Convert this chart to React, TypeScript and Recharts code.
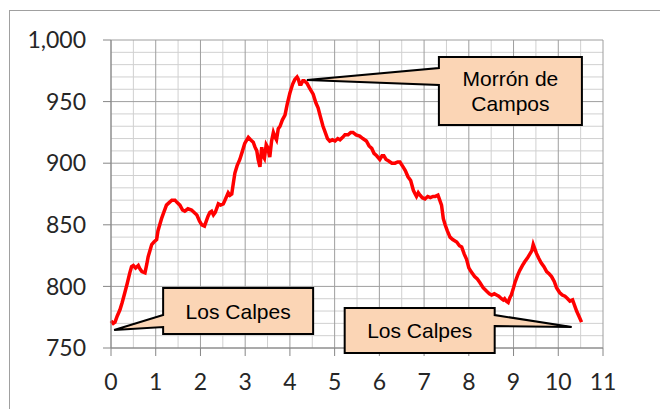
import React from 'react';
import { LineChart, Line, XAxis, YAxis, CartesianGrid, ReferenceDot } from 'recharts';

// distance along the route (km) and elevation (m)
const distanceKm = [
  0.0, 0.05, 0.09, 0.14, 0.2, 0.25, 0.31, 0.36, 0.42, 0.46, 0.5, 0.55, 0.61, 0.65, 0.69, 0.76, 0.8, 0.83, 0.87, 0.91,
  0.96, 1.02, 1.05, 1.09, 1.13, 1.17, 1.24, 1.3, 1.36, 1.43, 1.48, 1.54, 1.6, 1.65, 1.72, 1.8, 1.86, 1.92, 1.98, 2.03,
  2.09, 2.13, 2.17, 2.21, 2.25, 2.29, 2.33, 2.37, 2.4, 2.45, 2.51, 2.56, 2.62, 2.66, 2.7, 2.74, 2.77, 2.82, 2.88, 2.94,
  2.99, 3.07, 3.12, 3.18, 3.22, 3.26, 3.29, 3.33, 3.37, 3.4, 3.43, 3.47, 3.5, 3.55, 3.59, 3.63, 3.67, 3.7, 3.74, 3.78,
  3.83, 3.89, 3.94, 4.0, 4.06, 4.11, 4.16, 4.19, 4.22, 4.25, 4.29, 4.32, 4.38, 4.44, 4.52, 4.58, 4.63, 4.68, 4.74, 4.78,
  4.84, 4.89, 4.95, 5.01, 5.07, 5.12, 5.18, 5.23, 5.3, 5.36, 5.41, 5.48, 5.56, 5.63, 5.71, 5.77, 5.83, 5.88, 5.94, 6.01,
  6.06, 6.1, 6.15, 6.2, 6.28, 6.35, 6.41, 6.46, 6.53, 6.58, 6.64, 6.7, 6.76, 6.8, 6.83, 6.87, 6.91, 6.96, 7.02, 7.08,
  7.14, 7.2, 7.25, 7.31, 7.35, 7.39, 7.43, 7.47, 7.52, 7.58, 7.64, 7.73, 7.79, 7.84, 7.9, 7.95, 8.0, 8.05, 8.13, 8.19,
  8.25, 8.32, 8.4, 8.46, 8.51, 8.57, 8.62, 8.67, 8.73, 8.77, 8.8, 8.84, 8.88, 8.92, 8.95, 9.0, 9.03, 9.09, 9.14, 9.2,
  9.25, 9.31, 9.36, 9.41, 9.44, 9.47, 9.51, 9.56, 9.62, 9.68, 9.74, 9.8, 9.85, 9.91, 9.96, 10.03, 10.09, 10.15, 10.21, 10.26,
  10.32, 10.37, 10.41, 10.46, 10.52,
];

const elevationM = [
  772, 770, 771, 776, 781, 787, 795, 802, 811, 816, 817, 815, 817, 814, 812, 811, 818, 824, 829, 834,
  836, 838, 845, 850, 855, 859, 866, 868, 870, 870, 868, 866, 862, 861, 863, 862, 860, 858, 853, 850,
  849, 853, 857, 860, 861, 858, 860, 864, 867, 866, 867, 871, 876, 874, 875, 885, 892, 898, 903, 910,
  916, 921, 919, 917, 913, 910, 903, 897, 913, 906, 904, 915, 913, 905, 918, 925, 921, 919, 928, 930,
  935, 939, 948, 957, 964, 968, 970, 968, 964, 964, 967, 967, 965, 961, 956, 949, 945, 938, 930, 926,
  920, 918, 919, 918, 920, 919, 921, 923, 923, 925, 925, 923, 922, 920, 918, 914, 912, 908, 906, 903,
  906, 906, 903, 902, 900, 900, 901, 901, 897, 894, 889, 886, 878, 875, 873, 876, 874, 872, 871, 873,
  872, 873, 873, 874, 870, 866, 855, 850, 845, 840, 838, 836, 833, 832, 826, 822, 815, 812, 808, 806,
  803, 799, 796, 794, 793, 794, 793, 792, 790, 789, 790, 788, 787, 791, 793, 799, 803, 809, 813, 817,
  820, 823, 826, 829, 834, 831, 827, 823, 819, 816, 812, 810, 808, 804, 799, 795, 793, 792, 790, 788,
  789, 784, 780, 776, 771,
];

const xTicks = [0, 1, 2, 3, 4, 5, 6, 7, 8, 9, 10, 11];
const yTicks = [750, 800, 850, 900, 950, 1000];
const xMinor = [0.5, 1.5, 2.5, 3.5, 4.5, 5.5, 6.5, 7.5, 8.5, 9.5, 10.5];
const yMinor = [760, 770, 780, 790, 810, 820, 830, 840, 860, 870, 880, 890, 910, 920, 930, 940, 960, 970, 980, 990];

const X_DOMAIN = [0, 11];
const Y_DOMAIN = [750, 1000];

// callout labels: where the pointer lands (data units) and what they say
const calloutX = [4.38, 0.07, 10.3];
const calloutY = [967.5, 764.6, 767];
const calloutText = [['Morrón de', 'Campos'], ['Los Calpes'], ['Los Calpes']];

// box placement relative to the pointer tip (px)
const calloutBoxes = [
  { dx: 132, dy: -23, w: 143, h: 68, b0: -12, b1: 5, side: 'left' },
  { dx: 49, dy: -42, w: 150, h: 46, b0: -15, b1: -3, side: 'left' },
  { dx: -227, dy: -19, w: 150, h: 45, b0: -12, b1: -1, side: 'right' },
];

const data = distanceKm.map((d, i) => ({ km: d, elev: elevationM[i] }));

const MAJOR = '#9e9e9e';
const MINOR = '#d0d0d0';
const TICK_FONT = 'Lato, "Open Sans", sans-serif';

const makeCallout = (idx: number) => (props: any) => {
  const { cx, cy } = props;
  const b = calloutBoxes[idx];
  const lines = calloutText[idx];
  const left = cx + b.dx;
  const top = cy + b.dy;
  const right = left + b.w;
  const bottom = top + b.h;
  let d: string;
  if (b.side === 'left') {
    d = `M${left},${top} L${right},${top} L${right},${bottom} L${left},${bottom} L${left},${cy + b.b1} L${cx},${cy} L${left},${cy + b.b0} Z`;
  } else {
    d = `M${left},${top} L${right},${top} L${right},${cy + b.b0} L${cx},${cy} L${right},${cy + b.b1} L${right},${bottom} L${left},${bottom} Z`;
  }
  const midX = (left + right) / 2;
  const midY = (top + bottom) / 2;
  const lh = 25;
  const firstBase = midY + 7.5 - ((lines.length - 1) * lh) / 2;
  return (
    <g>
      <path d={d} fill="#fbd5b5" stroke="#000" strokeWidth={2} strokeLinejoin="miter" />
      {lines.map((t, i) => (
        <text
          key={t}
          x={midX}
          y={firstBase + i * lh}
          textAnchor="middle"
          fontFamily='"Liberation Sans", Arial, sans-serif'
          fontSize={21}
          fill="#000"
        >
          {t}
        </text>
      ))}
    </g>
  );
};

// grid positions from the plot offset and the axis domains
const gridX = (vals: number[]) => ({ offset }: any) =>
  vals.map((v) => offset.left + ((v - X_DOMAIN[0]) / (X_DOMAIN[1] - X_DOMAIN[0])) * offset.width);
const gridY = (vals: number[]) => ({ offset }: any) =>
  vals.map((v) => offset.top + ((Y_DOMAIN[1] - v) / (Y_DOMAIN[1] - Y_DOMAIN[0])) * offset.height);

const App: React.FC = () => {
  return (
    <div style={{ position: 'absolute', left: 0, top: 0, width: 660, height: 409, overflow: 'hidden', background: '#fff' }}>
      <div style={{ position: 'absolute', left: 9, top: 10, width: 700, height: 450, border: '1px solid #a0a0a0' }} />
      <div style={{ position: 'absolute', left: 0, top: 0 }}>
        <LineChart width={660} height={409} data={data} margin={{ top: 40, right: 57, bottom: 31, left: 0 }}>
          <CartesianGrid
            stroke={MINOR}
            strokeWidth={1}
            verticalCoordinatesGenerator={gridX(xMinor)}
            horizontalCoordinatesGenerator={gridY(yMinor)}
          />
          <CartesianGrid
            stroke={MAJOR}
            strokeWidth={1}
            verticalCoordinatesGenerator={gridX(xTicks)}
            horizontalCoordinatesGenerator={gridY(yTicks)}
          />
          <XAxis
            dataKey="km"
            type="number"
            domain={X_DOMAIN}
            ticks={xTicks}
            interval={0}
            height={30}
            tickSize={8}
            tickMargin={18}
            axisLine={{ stroke: '#868686' }}
            tickLine={{ stroke: '#868686' }}
            tick={{ fill: '#262626', fontSize: 23, fontFamily: TICK_FONT }}
          />
          <YAxis
            type="number"
            domain={Y_DOMAIN}
            ticks={yTicks}
            interval={0}
            width={111}
            tickSize={8}
            tickMargin={17}
            axisLine={{ stroke: '#868686' }}
            tickLine={{ stroke: '#868686' }}
            tickFormatter={(v: number) => v.toLocaleString('en-US')}
            tick={{ fill: '#262626', fontSize: 23, fontFamily: TICK_FONT }}
          />
          <Line
            type="linear"
            dataKey="elev"
            stroke="#ff0000"
            strokeWidth={3.5}
            dot={false}
            activeDot={false}
            isAnimationActive={false}
          />
          {calloutX.map((x, i) => (
            <ReferenceDot key={i} x={x} y={calloutY[i]} ifOverflow="visible" shape={makeCallout(i)} />
          ))}
        </LineChart>
      </div>
    </div>
  );
};

export default App;
